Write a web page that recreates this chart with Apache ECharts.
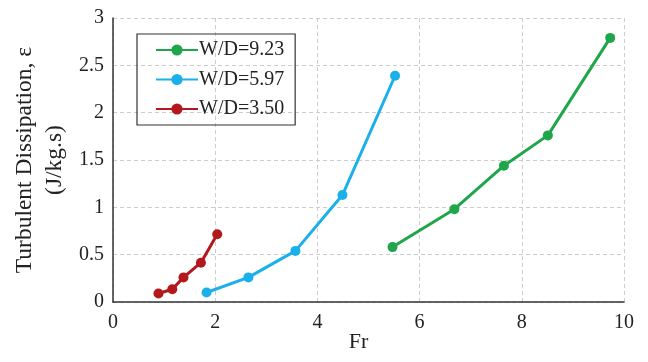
<!DOCTYPE html>
<html><head><meta charset="utf-8">
<script src="https://cdn.jsdelivr.net/npm/echarts@6/dist/echarts.min.js"></script>
<style>html,body{margin:0;padding:0;background:#fff}#c{width:648px;height:362px}</style>
</head><body><div id="c"></div>
<script>
const seriesNames = ['W/D=9.23', 'W/D=5.97', 'W/D=3.50'];
const frGreen = [5.47, 6.68, 7.65, 8.51, 9.73];
const epsGreen = [0.58, 0.98, 1.44, 1.76, 2.79];
const frBlue = [1.83, 2.65, 3.57, 4.49, 5.52];
const epsBlue = [0.10, 0.26, 0.54, 1.13, 2.39];
const frRed = [0.89, 1.16, 1.38, 1.72, 2.04];
const epsRed = [0.09, 0.135, 0.26, 0.415, 0.715];
const colors = ['#1FA64B', '#1CB0EA', '#B3191C'];

const zip = (a, b) => a.map((v, i) => [v, b[i]]);
const font = '"Liberation Serif", "Times New Roman", serif';
const chart = echarts.init(document.getElementById('c'));
const mk = (name, data, color) => ({
  name, type: 'line', data, symbol: 'circle', symbolSize: 10,
  lineStyle: { width: 3, color }, itemStyle: { color }, color
});
chart.setOption({
  animation: false,
  grid: { left: 113, right: 24, top: 18, bottom: 60, outerBoundsMode: 'none', containLabel: false },
  textStyle: { fontFamily: font },
  legend: {
    orient: 'vertical', left: 137, top: 34,
    padding: [6, 11, 6, 18],
    itemGap: 9.5, itemWidth: 42, itemHeight: 14,
    borderColor: '#333', borderWidth: 1.2, borderRadius: 0,
    textStyle: { fontFamily: font, fontSize: 20, lineHeight: 20, color: '#222', padding: [0, 0, 0, -4] },
    data: seriesNames
  },
  xAxis: {
    type: 'value', min: 0, max: 10, interval: 2,
    name: 'Fr', nameLocation: 'middle', nameGap: 29, nameMoveOverlap: false,
    nameTextStyle: { fontFamily: font, fontSize: 22, color: '#222', padding: [0, 20, 0, 0] },
    axisLine: { lineStyle: { color: '#333', width: 1.5 } },
    axisTick: { show: false },
    axisLabel: { fontFamily: font, fontSize: 20, color: '#222', margin: 11 },
    splitLine: { show: true, lineStyle: { color: '#ccc', type: [4, 3], width: 1 } }
  },
  yAxis: {
    type: 'value', min: 0, max: 3, interval: 0.5,
    name: 'Turbulent Dissipation, ε\n(J/kg.s)', nameLocation: 'middle', nameGap: 43, nameMoveOverlap: false,
    nameTextStyle: { fontFamily: font, fontSize: 23.5, color: '#222', lineHeight: 30 },
    axisLine: { show: true, lineStyle: { color: '#333', width: 1.5 } },
    axisTick: { show: false },
    axisLabel: { fontFamily: font, fontSize: 20, color: '#222', margin: 9 },
    splitLine: { show: true, lineStyle: { color: '#ccc', type: [4, 3], width: 1 } }
  },
  series: [
    mk(seriesNames[0], zip(frGreen, epsGreen), colors[0]),
    mk(seriesNames[1], zip(frBlue, epsBlue), colors[1]),
    mk(seriesNames[2], zip(frRed, epsRed), colors[2])
  ]
});
</script></body></html>
